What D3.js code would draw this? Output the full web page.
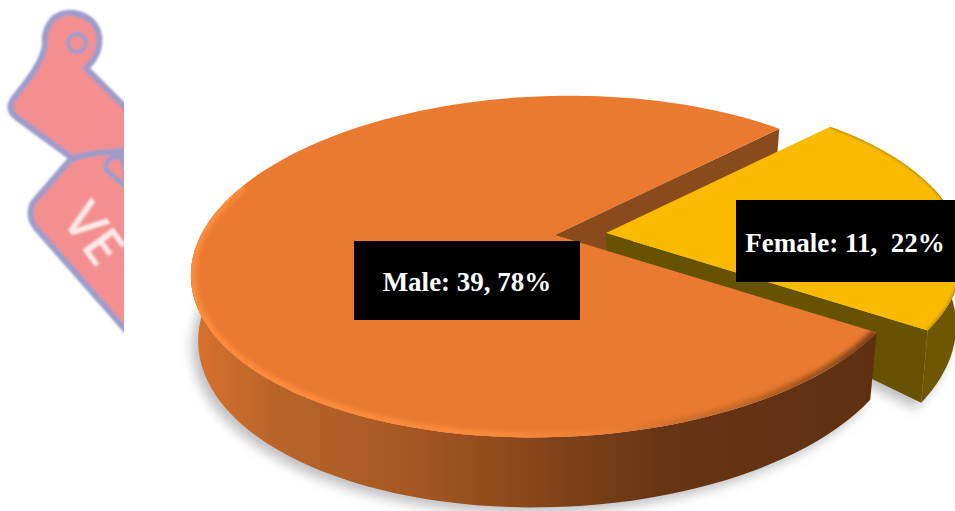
<!DOCTYPE html>
<html>
<head>
<meta charset="utf-8">
<script src="https://cdn.jsdelivr.net/npm/d3@7/dist/d3.min.js"></script>
<style>
html,body{margin:0;padding:0;background:#fff;overflow:hidden}
svg{display:block}
text{white-space:pre}
</style>
</head>
<body>
<svg id="chart" width="955" height="511"></svg>
<script>
// Survey split by gender
const categories = ["Female", "Male"];
const counts = [11, 39];
const percents = [22, 78];
const labels = ["Female: 11,  22%", "Male: 39, 78%"];
const faceColors = ["#F9BA00", "#E97A30"];
const cutColors = ["#665200", "#8A4B1C"];

// Perspective of the tilted disc
const W = 955, H = 511;
const cx = 555, cy = 235, A = 354, B = 165, shear = -18, persp = 0.185;
const femaleShift = {dx: 51, dy: -2};
const rad = d => d * Math.PI / 180;

function project(theta, r, shift) {
  const u = r * Math.sin(theta), v = -r * Math.cos(theta);
  const w = 1 - persp * v;
  return [cx + shift.dx + (A * u + shear * v) / w, cy + shift.dy + B * v / w];
}
// The bottom edge of the slab, dropped further at the rim than at the centre
function projectBase(theta, r, shift) {
  const p = project(theta, r, shift);
  const v = -r * Math.cos(theta);
  const drop = 18 + r * 46 + 6 * v + (shift.dx ? r * 5 : 0);
  const ox = cx + shift.dx;
  return [ox + (p[0] - ox) * 0.98, p[1] + drop];
}

const pie = d3.pie().sort(null).value(d => d)
  .startAngle(rad(43)).endAngle(rad(43) + 2 * Math.PI);
const arcs = pie(counts);
const line = d3.line().curve(d3.curveLinear);
const steps = a => d3.range(0, 121).map(i => a.startAngle + (a.endAngle - a.startAngle) * i / 120);
// Only the part of the rim that faces the viewer has a visible outer wall
const frontSteps = a => steps(a).filter(t => Math.cos(t) < 0.3);

function facePoints(a, s) {
  return [project(0, 0, s)].concat(steps(a).map(t => project(t, 1, s)));
}
function wallPoints(a, s) {
  const ts = frontSteps(a);
  return ts.map(t => project(t, 1, s)).concat(ts.slice().reverse().map(t => projectBase(t, 1, s)));
}
function cutPoints(theta, s) {
  return [project(0, 0, s), project(theta, 1, s), projectBase(theta, 1, s), projectBase(0, 0, s)];
}
function footprint(a, s) {
  return [projectBase(0, 0, s)].concat(steps(a).map(t => projectBase(t, 1, s)));
}

const svg = d3.select("#chart");
const defs = svg.append("defs");

function blur(id, sd) {
  defs.append("filter").attr("id", id)
    .attr("x", "-20%").attr("y", "-20%").attr("width", "140%").attr("height", "140%")
    .append("feGaussianBlur").attr("stdDeviation", sd);
}
blur("soft1", 1.1);
blur("soft2", 2.2);
blur("soft3", 6);

function hGradient(id, stops) {
  const g = defs.append("linearGradient").attr("id", id)
    .attr("gradientUnits", "userSpaceOnUse")
    .attr("x1", 190).attr("x2", 880).attr("y1", 0).attr("y2", 0);
  stops.forEach(s => g.append("stop").attr("offset", s[0]).attr("stop-color", s[1]).attr("stop-opacity", s[2] === undefined ? 1 : s[2]));
}
hGradient("maleWall", [[0, "#D9722B"], [0.12, "#B9652A"], [0.32, "#A65822"], [0.5, "#85461A"], [0.68, "#683514"], [1, "#5E3011"]]);
hGradient("maleBevel", [[0, "#FF8C3C"], [0.45, "#FB8A3A"], [0.62, "#F08035", 0.6], [0.78, "#8A4B1C", 0.35], [1, "#6B3714", 0.9]]);

// Ribbon emblem at the far left, cut off by a straight edge
defs.append("clipPath").attr("id", "emblemClip")
  .append("rect").attr("x", 0).attr("y", 0).attr("width", 124).attr("height", H);

const emblem = svg.append("g").attr("clip-path", "url(#emblemClip)");
const emblemShapes = emblem.append("g").attr("filter", "url(#soft1)");
const emblemFill = "#F48F90", emblemLine = "#9D9CCB";
emblemShapes.append("path")
  .attr("d", "M128,110 L86,68 C97,58 102,46 98,31 C90,12 66,8 53,19 C46,27 44,36 45,44 C43,62 28,80 14,98 C8,106 10,112 16,117 L72,158 L128,150 Z")
  .attr("fill", emblemFill).attr("stroke", emblemLine).attr("stroke-width", 6).attr("stroke-linejoin", "round");
emblemShapes.append("circle").attr("cx", 77).attr("cy", 43).attr("r", 9)
  .attr("fill", emblemFill).attr("stroke", emblemLine).attr("stroke-width", 4);
emblemShapes.append("path")
  .attr("d", "M70,160 C88,152 108,151 130,152 L130,335 L36,228 C28,218 29,206 37,198 Z")
  .attr("fill", emblemFill).attr("stroke", emblemLine).attr("stroke-width", 6).attr("stroke-linejoin", "round");
emblemShapes.append("path")
  .attr("d", "M106,170 C104,160 112,155 122,158 L130,190 Z")
  .attr("fill", emblemFill).attr("stroke", emblemLine).attr("stroke-width", 5);
emblem.append("text")
  .attr("transform", "translate(97,193) rotate(54)")
  .attr("font-family", "'Open Sans', sans-serif").attr("font-size", 52).attr("font-weight", 600)
  .attr("dominant-baseline", "hanging")
  .attr("filter", "url(#soft1)")
  .attr("fill", "#FCEBE8").text("VE");

const shiftOf = i => i === 0 ? femaleShift : {dx: 0, dy: 0};

// Soft shadow on the ground under both pieces
const shadow = svg.append("g").attr("filter", "url(#soft3)");
arcs.forEach((a, i) => {
  shadow.append("path")
    .attr("d", line(footprint(a, shiftOf(i))) + "Z")
    .attr("transform", "translate(-6,6)")
    .attr("fill", "#96969b").attr("opacity", 0.6);
});

// Male cut face seen through the gap, running down behind the female slice
const maleCut = cutPoints(arcs[1].endAngle, shiftOf(1));
maleCut.splice(3, 0, projectBase(0, 0, femaleShift));
svg.append("path").attr("class", "cut male")
  .attr("d", line(maleCut) + "Z")
  .attr("fill", cutColors[1]);

// Female slice: outer wall, front cut, top
const fem = svg.append("g").attr("class", "slice female");
fem.append("path").attr("d", line(wallPoints(arcs[0], shiftOf(0))) + "Z").attr("fill", "#6E5700");
fem.append("path").attr("d", line(cutPoints(arcs[0].endAngle, shiftOf(0))) + "Z").attr("fill", cutColors[0]);
const femFace = line(facePoints(arcs[0], shiftOf(0))) + "Z";
fem.append("path").attr("d", femFace).attr("fill", faceColors[0]);
defs.append("clipPath").attr("id", "femaleFace").append("path").attr("d", femFace);
fem.append("g").attr("clip-path", "url(#femaleFace)")
  .append("path")
  .attr("d", line(steps(arcs[0]).map(t => project(t, 1, shiftOf(0)))))
  .attr("fill", "none").attr("stroke", "#8E6C00").attr("stroke-opacity", 0.5)
  .attr("stroke-width", 3).attr("filter", "url(#soft1)");

// Male slice: outer wall, top, rounded rim
const male = svg.append("g").attr("class", "slice male");
male.append("path").attr("d", line(wallPoints(arcs[1], shiftOf(1))) + "Z").attr("fill", "url(#maleWall)");
const face = line(facePoints(arcs[1], shiftOf(1))) + "Z";
male.append("path").attr("d", face).attr("fill", faceColors[1]);
defs.append("clipPath").attr("id", "maleFace").append("path").attr("d", face);
const rimAngles = steps(arcs[1]).filter(t => Math.cos(t) < 0.35 && Math.sin(t) < 0.9);
male.append("g").attr("clip-path", "url(#maleFace)")
  .append("path")
  .attr("d", line(rimAngles.map(t => project(t, 1, shiftOf(1)))))
  .attr("fill", "none")
  .attr("stroke", "url(#maleBevel)")
  .attr("stroke-width", 10)
  .attr("filter", "url(#soft2)");

// Value labels on black plates
const plates = [
  {x: 736, y: 200, w: 219, h: 82, base: 252},
  {x: 354, y: 241, w: 226, h: 79, base: 291}
];
const plateG = svg.append("g").selectAll("g").data(labels).join("g");
plateG.append("rect")
  .attr("x", (d, i) => plates[i].x).attr("y", (d, i) => plates[i].y)
  .attr("width", (d, i) => plates[i].w).attr("height", (d, i) => plates[i].h)
  .attr("fill", "#000");
plateG.append("text")
  .attr("x", (d, i) => plates[i].x + plates[i].w / 2 - (i === 0 ? 0.5 : 0))
  .attr("y", (d, i) => plates[i].base)
  .attr("text-anchor", "middle")
  .attr("xml:space", "preserve")
  .attr("font-family", "'Liberation Serif', serif")
  .attr("font-weight", "bold").attr("font-size", 27)
  .attr("fill", "#fff")
  .text(d => d);
</script>
</body>
</html>
